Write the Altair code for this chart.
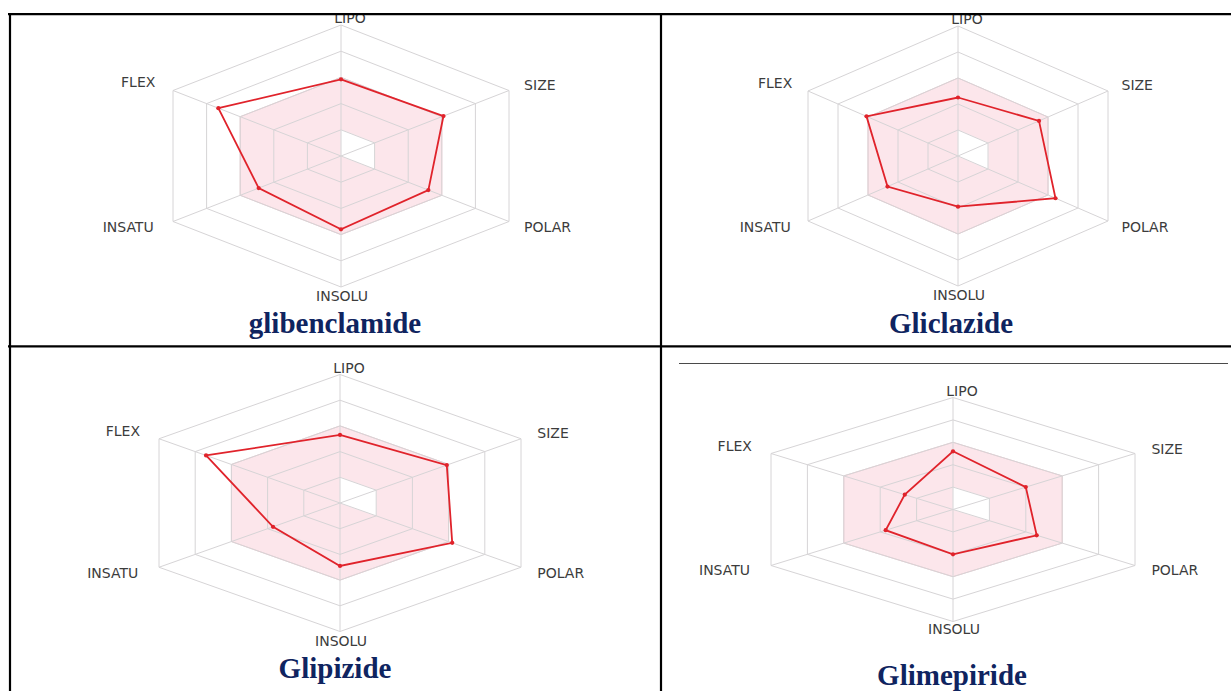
import altair as alt
import pandas as pd

# ---------------- data ----------------
AXES = ["LIPO", "SIZE", "POLAR", "INSOLU", "INSATU", "FLEX"]
DRUGS = ["glibenclamide", "Gliclazide", "Glipizide", "Glimepiride"]
# radar values, fraction of the outer ring, in the order of AXES
glibenclamide = [0.585, 0.61, 0.52, 0.56, 0.49, 0.73]
gliclazide = [0.45, 0.54, 0.65, 0.39, 0.47, 0.61]
glipizide = [0.53, 0.59, 0.62, 0.49, 0.37, 0.74]
glimepiride = [0.52, 0.40, 0.46, 0.40, 0.37, 0.265]
VALUES = [glibenclamide, gliclazide, glipizide, glimepiride]
RINGS = [0.2, 0.4, 0.6, 0.8, 1.0]
OPTIMAL_OUTER = [0.6, 0.6, 0.6, 0.6, 0.6, 0.6]
OPTIMAL_INNER = [0.2, 0.2, 0.2, 0.0, 0.0, 0.0]

# ---------------- layout ----------------
W, H = 1231, 691
# centre x, centre y, half width (to side vertex), vertical radius
PANELS = [(341, 156, 168, 131), (958, 156, 150, 130),
          (340, 503, 181, 128.5), (953, 509.5, 182, 112)]
TITLE_POS = [(335, 333), (951, 333), (335, 678), (952, 685)]
DX = [0, 1, 1, 0, -1, -1]
DY = [-1, -0.5, 0.5, 1, 0.5, -0.5]
# label placement: (fx, fy, align, extra px)
LABEL_POS = [(0.0, -1.045, "center", 9), (1.09, -0.535, "left", 0),
             (1.09, 0.55, "left", 0), (0.0, 1.078, "center", 1),
             (-1.115, 0.55, "right", 0), (-1.105, -0.555, "right", 0)]
TABLE_LINES = [  # x, y, x2, y2, colour, width
    (8, 14.2, 1231, 14.2, "#000000", 2.2),
    (10, 13, 10, 691, "#000000", 2.2),
    (661, 13, 661, 691, "#000000", 2.2),
    (8, 346.3, 1231, 346.3, "#000000", 2.2),
    (679, 363.5, 1228, 363.5, "#4a4a4a", 1),
]

RED = "#e0232b"
PINK = "#fce6eb"
GRID = "#d6d4d6"
NAVY = "#0f2460"


def polygon_rows(radii_list, tag):
    rows = []
    for p, (cx, cy, hx, vy) in enumerate(PANELS):
        for gi, radii in enumerate(radii_list(p)):
            for k in range(6):
                rows.append({"gid": f"{tag}-{p}-{gi}", "k": k,
                             "x": cx + radii[k] * hx * DX[k],
                             "y": cy + radii[k] * vy * DY[k]})
    return pd.DataFrame(rows)


pink_df = polygon_rows(lambda p: [OPTIMAL_OUTER], "pink")
white_df = polygon_rows(lambda p: [OPTIMAL_INNER], "white")
ring_df = polygon_rows(lambda p: [[r] * 6 for r in RINGS], "ring")
data_df = polygon_rows(lambda p: [VALUES[p]], "data")

spoke_rows = []
label_rows = []
for p, (cx, cy, hx, vy) in enumerate(PANELS):
    for k in range(6):
        spoke_rows.append({"x": cx, "y": cy, "x2": cx + hx * DX[k], "y2": cy + vy * DY[k]})
        fx, fy, al, extra = LABEL_POS[k]
        label_rows.append({"x": cx + fx * hx + extra, "y": cy + fy * vy,
                           "label": AXES[k], "align": al})
spoke_df = pd.DataFrame(spoke_rows)
label_df = pd.DataFrame(label_rows)
title_df = pd.DataFrame({"name": DRUGS, "x": [t[0] for t in TITLE_POS],
                         "y": [t[1] for t in TITLE_POS]})
lines_df = pd.DataFrame(TABLE_LINES, columns=["x", "y", "x2", "y2", "c", "w"])

xs = alt.Scale(domain=[0, W], nice=False, zero=False)
ys = alt.Scale(domain=[0, H], nice=False, zero=False, reverse=True)
X = alt.X("x:Q", scale=xs, axis=None)
Y = alt.Y("y:Q", scale=ys, axis=None)

pink = alt.Chart(pink_df).mark_line(
    interpolate="linear-closed", fill=PINK, stroke="#f3ccd3", strokeWidth=1
).encode(x=X, y=Y, detail="gid:N", order="k:Q")

white = alt.Chart(white_df).mark_line(
    interpolate="linear-closed", fill="white", stroke="white", strokeWidth=0.5
).encode(x=X, y=Y, detail="gid:N", order="k:Q")

rings = alt.Chart(ring_df).mark_line(
    interpolate="linear-closed", stroke=GRID, strokeWidth=1
).encode(x=X, y=Y, detail="gid:N", order="k:Q")

spokes = alt.Chart(spoke_df).mark_rule(color=GRID, strokeWidth=1).encode(
    x=X, y=Y, x2="x2:Q", y2="y2:Q")

data_line = alt.Chart(data_df).mark_line(
    interpolate="linear-closed", stroke=RED, strokeWidth=1.8
).encode(x=X, y=Y, detail="gid:N", order="k:Q")

data_pts = alt.Chart(data_df).mark_circle(color=RED, size=18, opacity=1).encode(x=X, y=Y)

label_layers = []
for al in ["left", "right", "center"]:
    label_layers.append(
        alt.Chart(label_df[label_df["align"] == al]).mark_text(
            align=al, baseline="middle", font="DejaVu Sans", fontSize=14,
            color="#3c3c3c"
        ).encode(x=X, y=Y, text="label:N"))

titles = alt.Chart(title_df).mark_text(
    align="center", baseline="alphabetic", font="Liberation Serif",
    fontWeight="bold", fontSize=29, color=NAVY
).encode(x=X, y=Y, text="name:N")

borders = alt.Chart(lines_df).mark_rule().encode(
    x=X, y=Y, x2="x2:Q", y2="y2:Q",
    color=alt.Color("c:N", scale=None),
    strokeWidth=alt.StrokeWidth("w:Q", scale=None))

chart = alt.layer(
    pink, white, rings, spokes, data_line, data_pts, *label_layers, titles, borders
).properties(
    width=W, height=H, autosize="none", padding=0, background="white"
).configure_view(strokeWidth=0)

chart.save("out.html", embed_options={"renderer": "svg", "actions": False})
